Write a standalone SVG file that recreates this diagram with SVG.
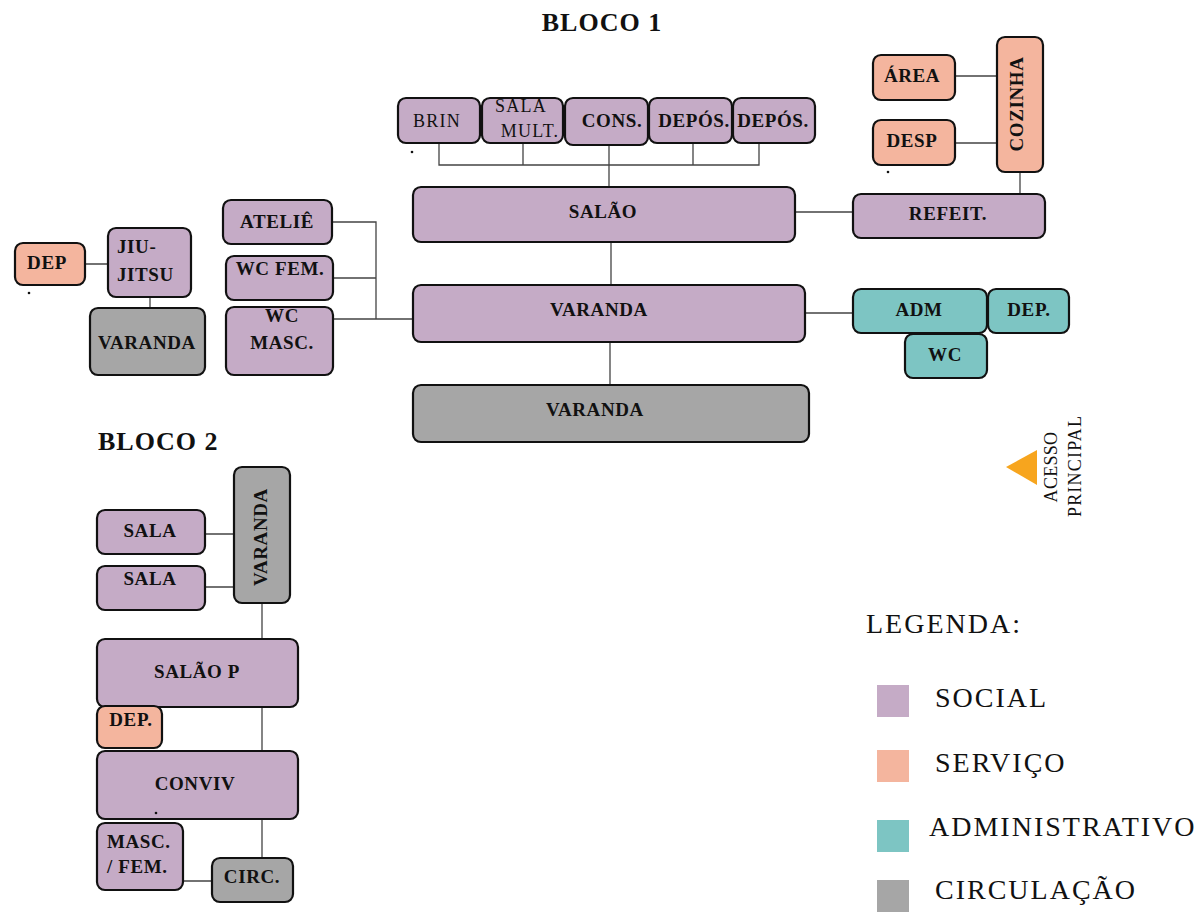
<svg xmlns="http://www.w3.org/2000/svg" width="1201" height="916" viewBox="0 0 1201 916">
<style>
.n{stroke:#111;stroke-width:2.2}
.s{fill:#C5ABC6}.v{fill:#F4B59E}.a{fill:#7DC5C3}.c{fill:#A6A6A6}
.t{font-family:"Liberation Serif","Times New Roman",serif;font-weight:bold;font-size:19px;fill:#111;text-anchor:middle;letter-spacing:0.6px}
.t.st{text-anchor:start}
.r{font-family:"Liberation Serif","Times New Roman",serif;font-size:18px;fill:#111;text-anchor:middle;letter-spacing:1.2px}
.l{font-family:"Liberation Serif","Times New Roman",serif;font-size:28px;fill:#111;letter-spacing:2px}
.h{font-family:"Liberation Serif","Times New Roman",serif;font-weight:bold;font-size:26px;fill:#111;letter-spacing:1px}
.k{fill:none;stroke:#444;stroke-width:1.3}
</style>
<text class="h" x="602" y="31" text-anchor="middle">BLOCO 1</text>
<text class="h" x="98" y="450">BLOCO 2</text>
<g id="connectors">
<path class="k" d="M439 143V165H759V143M523 143V165M693 143V165M609 145V187M611 242V286M610 342V385M795 212H853M1020 172V194M955 76H997M955 143H997M85 264H108M150 297V308M332 222H376V319M333 278H376M333 319H413M805 313H853M205 534H234M205 587H234M262 603V639M262 707V751M262 819V858M183 881H212"/>
</g>
<g id="brin"><rect class="n s" x="398" y="98" width="82" height="45" rx="8"/><text class="r" x="437" y="127">BRIN</text></g>
<g id="salamult"><rect class="n s" x="482" y="98" width="81" height="45" rx="8"/><text class="r" x="521" y="112">SALA</text><text class="r" x="530" y="137">MULT.</text></g>
<g id="cons"><rect class="n s" x="565" y="98" width="83" height="47" rx="8"/><text class="t" x="612" y="127">CONS.</text></g>
<g id="depos1"><rect class="n s" x="649" y="98" width="83" height="45" rx="8"/><text class="t" x="694" y="127">DEPÓS.</text></g>
<g id="depos2"><rect class="n s" x="733" y="98" width="82" height="45" rx="8"/><text class="t" x="773" y="127">DEPÓS.</text></g>
<g id="salao"><rect class="n s" x="413" y="187" width="382" height="55" rx="8"/><text class="t" x="603" y="218">SALÃO</text></g>
<g id="area"><rect class="n v" x="873" y="55" width="82" height="45" rx="8"/><text class="t" x="912" y="82">ÁREA</text></g>
<g id="desp"><rect class="n v" x="873" y="120" width="82" height="45" rx="8"/><text class="t" x="912" y="147">DESP</text></g>
<g id="cozinha"><rect class="n v" x="997" y="37" width="46" height="135" rx="8"/><text class="t" transform="translate(1023 104) rotate(-90)">COZINHA</text></g>
<g id="refeit"><rect class="n s" x="853" y="194" width="192" height="44" rx="8"/><text class="t" x="948" y="220">REFEIT.</text></g>
<g id="dep-left"><rect class="n v" x="15" y="243" width="70" height="42" rx="8"/><text class="t" x="47" y="269">DEP</text></g>
<g id="jiujitsu"><rect class="n s" x="108" y="228" width="83" height="69" rx="8"/><text class="t st" x="117" y="253">JIU-</text><text class="t st" x="117" y="281">JITSU</text></g>
<g id="varanda-left"><rect class="n c" x="90" y="308" width="115" height="67" rx="8"/><text class="t" x="147" y="349">VARANDA</text></g>
<g id="atelie"><rect class="n s" x="223" y="200" width="109" height="44" rx="8"/><text class="t" x="277" y="228">ATELIÊ</text></g>
<g id="wcfem"><rect class="n s" x="226" y="256" width="107" height="44" rx="8"/><text class="t" x="280" y="275">WC FEM.</text></g>
<g id="wcmasc"><rect class="n s" x="226" y="307" width="107" height="68" rx="8"/><text class="t" x="282" y="322">WC</text><text class="t" x="282" y="349">MASC.</text></g>
<g id="varanda-main"><rect class="n s" x="413" y="285" width="392" height="57" rx="8"/><text class="t" x="599" y="316">VARANDA</text></g>
<g id="adm"><rect class="n a" x="853" y="289" width="134" height="44" rx="8"/><text class="t" x="919" y="316">ADM</text></g>
<g id="dep-adm"><rect class="n a" x="988" y="289" width="81" height="44" rx="8"/><text class="t" x="1029" y="316">DEP.</text></g>
<g id="wc-adm"><rect class="n a" x="905" y="334" width="82" height="44" rx="8"/><text class="t" x="945" y="361">WC</text></g>
<g id="varanda-bottom"><rect class="n c" x="413" y="385" width="396" height="57" rx="8"/><text class="t" x="595" y="416">VARANDA</text></g>
<g id="varanda-b2"><rect class="n c" x="234" y="467" width="56" height="136" rx="8"/><text class="t" transform="translate(267 537) rotate(-90)">VARANDA</text></g>
<g id="sala1"><rect class="n s" x="97" y="510" width="108" height="44" rx="8"/><text class="t" x="150" y="537">SALA</text></g>
<g id="sala2"><rect class="n s" x="97" y="566" width="108" height="44" rx="8"/><text class="t" x="150" y="585">SALA</text></g>
<g id="salaop"><rect class="n s" x="97" y="639" width="201" height="68" rx="8"/><text class="t" x="197" y="678">SALÃO P</text></g>
<g id="dep-b2"><rect class="n v" x="97" y="706" width="65" height="42" rx="8"/><text class="t" x="131" y="726">DEP.</text></g>
<g id="conviv"><rect class="n s" x="97" y="751" width="201" height="68" rx="8"/><text class="t" x="195" y="790">CONVIV</text></g>
<g id="mascfem"><rect class="n s" x="97" y="823" width="86" height="67" rx="8"/><text class="t st" x="107" y="848">MASC.</text><text class="t st" x="107" y="873">/ FEM.</text></g>
<g id="circ"><rect class="n c" x="212" y="858" width="81" height="44" rx="8"/><text class="t" x="252" y="883">CIRC.</text></g>
<g id="dots" fill="#111"><circle cx="412" cy="152" r="1.3"/><circle cx="888" cy="172" r="1.3"/><circle cx="29" cy="293" r="1.3"/><circle cx="156" cy="813" r="1.3"/></g>
<g id="acesso"><polygon points="1006,467 1037,450 1037,485" fill="#F7A51E"/><text class="r" style="letter-spacing:0.3px" transform="translate(1057 467) rotate(-90)">ACESSO</text><text class="r" style="letter-spacing:1.2px" transform="translate(1081 466) rotate(-90)">PRINCIPAL</text></g>
<g id="legenda">
<text class="l" x="866" y="633">LEGENDA:</text>
<rect class="s" x="877" y="685" width="32" height="32"/><text class="l" x="935" y="707">SOCIAL</text>
<rect class="v" x="877" y="750" width="32" height="32"/><text class="l" x="935" y="772">SERVIÇO</text>
<rect class="a" x="877" y="820" width="32" height="32"/><text class="l" x="929" y="836">ADMINISTRATIVO</text>
<rect class="c" x="877" y="880" width="32" height="32"/><text class="l" x="935" y="899">CIRCULAÇÃO</text>
</g>
</svg>
